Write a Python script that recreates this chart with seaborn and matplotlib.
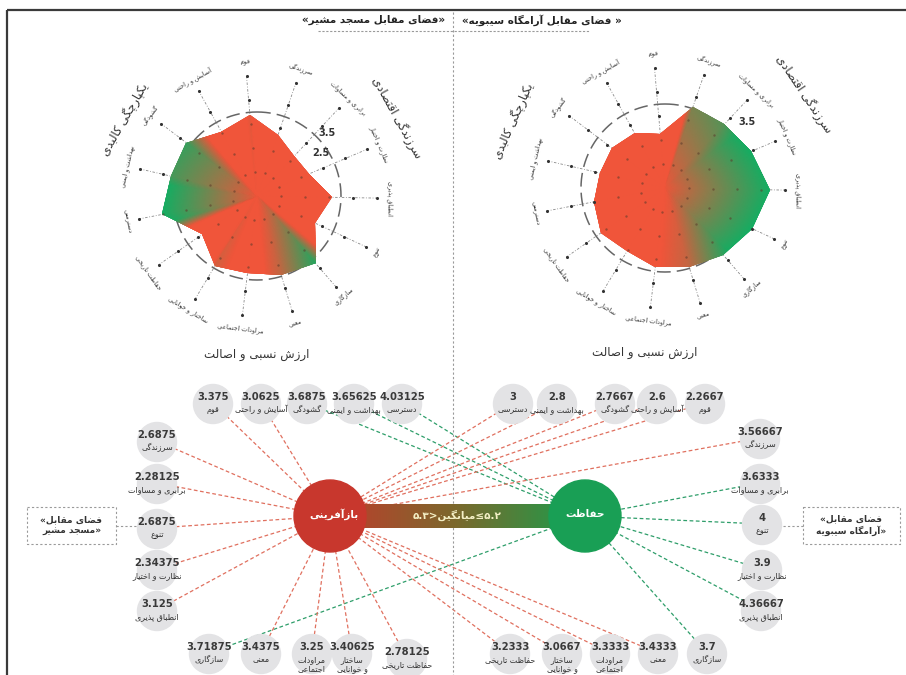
import numpy as np
import matplotlib.pyplot as plt
import seaborn as sns
from matplotlib.patches import Circle, Rectangle

sns.set_theme(style='white')
plt.rcParams['font.family'] = ['DejaVu Sans']

# criteria, clockwise around the radars starting from the top
criteria = ['قوم', 'سرزندگی', 'برابری و مساوات', 'نظارت و اختیار', 'انطباق پذیری',
            'تنوع', 'سازگاری', 'معنی', 'مراودات اجتماعی', 'ساختار و خوانایی',
            'حفاظت تاریخی', 'دسترسی', 'بهداشت و ایمنی', 'گشودگی', 'آسایش و راحتی']
moshir = [3.375, 2.6875, 2.28125, 2.34375, 3.125, 2.6875, 3.71875, 3.4375, 3.25,
          3.40625, 2.78125, 4.03125, 3.65625, 3.6875, 3.0625]
sibawayh = [2.2667, 3.56667, 3.6333, 3.9, 4.36667, 4, 3.7, 3.4333, 3.3333,
            3.0667, 3.2333, 3, 2.8, 2.7667, 2.6]
groups = ['سرزندگی اقتصادی', 'یکپارچگی کالبدی', 'ارزش نسبی و اصالت']
site_moshir = 'فضای مقابل مسجد مشیر'
site_sibawayh = 'فضای مقابل آرامگاه سیبویه'
cls_keep = 'حفاظت'
cls_regen = 'بازآفرینی'
mean_word = 'میانگین'
link_cut = 3.6   # criteria at or above go to "keep", the rest to "regenerate"

RED = '#f0553a'
GREEN = '#16ad62'

# --- minimal persian shaping + right-to-left ordering for matplotlib ---
_two = {'ا': 0xFE8D, 'آ': 0xFE81, 'د': 0xFEA9, 'ذ': 0xFEAB, 'ر': 0xFEAD,
        'ز': 0xFEAF, 'ژ': 0xFB8A, 'و': 0xFEED}
_four = {'ب': 0xFE8F, 'پ': 0xFB56, 'ت': 0xFE95, 'ث': 0xFE99, 'ج': 0xFE9D,
         'چ': 0xFB7A, 'ح': 0xFEA1, 'خ': 0xFEA5, 'س': 0xFEB1, 'ش': 0xFEB5,
         'ص': 0xFEB9, 'ض': 0xFEBD, 'ط': 0xFEC1, 'ظ': 0xFEC5, 'ع': 0xFEC9,
         'غ': 0xFECD, 'ف': 0xFED1, 'ق': 0xFED5, 'ک': 0xFB8E, 'ك': 0xFED9,
         'گ': 0xFB92, 'ل': 0xFEDD, 'م': 0xFEE1, 'ن': 0xFEE5, 'ه': 0xFEE9,
         'ی': 0xFBFC, 'ي': 0xFEF1, 'ئ': 0xFE89}


def fa(s):
    lines = []
    for line in s.split('\n'):
        out = []
        for i, ch in enumerate(line):
            prev = line[i - 1] if i > 0 else ''
            nxt = line[i + 1] if i + 1 < len(line) else ''
            jp = prev in _four
            if ch in _two:
                out.append(chr(_two[ch] + (1 if jp else 0)))
            elif ch in _four:
                jn = nxt in _four or nxt in _two
                k = 3 if (jp and jn) else 1 if jp else 2 if jn else 0
                out.append(chr(_four[ch] + k))
            else:
                out.append(ch)
        lines.append(''.join(reversed(out)))
    return '\n'.join(lines)


fig = plt.figure(figsize=(9.06, 6.75), dpi=100)
W, H = 906, 675

bg = fig.add_axes([0, 0, 1, 1])
bg.set_xlim(0, W)
bg.set_ylim(H, 0)
bg.axis('off')

# frame, header and divider
bg.add_patch(Rectangle((7, 10), 910, 700, fill=False, ec='#3a3a3a', lw=1.6))
bg.plot([453, 453], [12, H], ls=(0, (2, 2)), color='#9a9a9a', lw=0.8)
bg.plot([318, 590], [31, 31], ls=(0, (2, 1.5)), color='#9a9a9a', lw=0.8)
bg.text(445, 20, '«' + fa(site_moshir) + '»', ha='right', va='center',
        fontsize=7.5, fontweight='bold', color='#222')
bg.text(462, 20, '«' + fa(site_sibawayh) + ' »', ha='left', va='center',
        fontsize=7.5, fontweight='bold', color='#222')

fill_cmap = sns.blend_palette([RED, GREEN], as_cmap=True)


def radar(cx, cy, vals, group_pos, scale_labels):
    rmax, px = 6, 24
    R = rmax * px
    ax = fig.add_axes([(cx - R) / W, 1 - (cy + R) / H, 2 * R / W, 2 * R / H],
                      projection='polar')
    ax.set_theta_zero_location('N')
    ax.set_theta_direction(-1)
    ax.axis('off')
    theta = np.deg2rad(-5 + 24 * np.arange(len(vals)))
    th_c = np.append(theta, theta[0] + 2 * np.pi)
    v_c = np.append(vals, vals[0])

    for t in theta:
        ax.plot([t, t], [0.2, 5.05], ls=(0, (3, 2, 1, 2)), color='#8a8a8a',
                lw=0.6, zorder=1)
    tt = np.linspace(0, 2 * np.pi, 361)
    ax.plot(tt, np.full_like(tt, 3.5), ls=(0, (9, 4)), color='#666', lw=1.1, zorder=1)

    # gradient fill clipped to the data polygon
    rr = np.linspace(0, 5, 101)
    T, Rg = np.meshgrid(tt, rr)
    edge = np.interp((tt - theta[0]) % (2 * np.pi) + theta[0], th_c, v_c)
    w = np.clip((edge - 3.35) / 0.4, 0, 1)[None, :] * np.clip(Rg / edge[None, :], 0, 1) ** 0.9
    mesh = ax.pcolormesh(T, Rg, w, cmap=fill_cmap, vmin=0, vmax=1,
                         shading='gouraud', zorder=2)
    poly = ax.fill(th_c, v_c, facecolor='none', edgecolor='none', zorder=2)[0]
    mesh.set_clip_path(poly)

    dots_t = np.repeat(theta, 5)
    dots_r = np.tile(np.arange(1, 6), len(theta))
    inside = dots_r < np.repeat(vals, 5)
    sns.scatterplot(x=dots_t[inside], y=dots_r[inside], ax=ax, s=3, color='#5a3a2a',
                    alpha=0.55, linewidth=0, legend=False, zorder=3)
    sns.scatterplot(x=dots_t[~inside], y=dots_r[~inside], ax=ax, s=5, color='#333',
                    linewidth=0, legend=False, zorder=3)
    ax.set_ylim(0, rmax)

    for t, name in zip(theta, criteria):
        ang = np.rad2deg(t) % 360
        rot = -ang
        if 100 < ang < 260:
            rot += 180
        ax.text(t, 5.55, fa(name), rotation=rot, rotation_mode='anchor',
                ha='center', va='center', fontsize=4.6, color='#333')
    for (ang, r), name in zip(group_pos, groups):
        rot = -ang if ang < 100 or ang > 260 else 0
        ax.text(np.deg2rad(ang), r, fa(name), rotation=rot, rotation_mode='anchor',
                ha='center', va='center', fontsize=8.5, color='#333')
    for txt, ang, r in scale_labels:
        ax.text(np.deg2rad(ang), r, txt, ha='center', va='center', fontsize=7,
                fontweight='bold', color='#333', zorder=4)


radar(257, 196, moshir, [(61, 6.7), (300, 6.4), (180, 6.6)],
      [('3.5', 48, 3.95), ('2.5', 56, 3.2)])
radar(665, 188, sibawayh, [(56, 7.0), (294, 6.9), (187, 6.9)],
      [('3.5', 51, 4.4)])

# --- lower diagram: two classes joined by the middle band ---
regen_xy, keep_xy, cr = (330, 516), (585, 516), 36
band_cmap = sns.blend_palette(['#b3452c', '#7a692d', '#2c9446'], as_cmap=True)
bg.imshow(np.linspace(0, 1, 256)[None, :], extent=(355, 560, 528, 504),
          cmap=band_cmap, aspect='auto', zorder=3)
bg.add_patch(Circle(regen_xy, cr, color='#c8372d', zorder=4))
bg.add_patch(Circle(keep_xy, cr, color='#199f55', zorder=4))
bg.text(regen_xy[0] + 4, regen_xy[1] - 2, fa(cls_regen), ha='center', va='center',
        fontsize=7.5, fontweight='bold', color='white', zorder=5)
bg.text(keep_xy[0], keep_xy[1] - 2, fa(cls_keep), ha='center', va='center',
        fontsize=7.5, fontweight='bold', color='white', zorder=5)
bg.text(457, 515, '۵.۳>' + fa(mean_word) + '≤۵.۲', ha='center', va='center',
        fontsize=7.5, fontweight='bold', color='#f4f0c6', zorder=5)
bg.set_xlim(0, W)
bg.set_ylim(H, 0)

# bubble layout (x, y of the value text) for each site
pos_moshir = {
    'قوم': (213, 397), 'آسایش و راحتی': (261, 397), 'گشودگی': (307, 397),
    'بهداشت و ایمنی': (354, 397), 'دسترسی': (402, 397),
    'سرزندگی': (157, 435), 'برابری و مساوات': (157, 477), 'تنوع': (157, 522),
    'نظارت و اختیار': (157, 563), 'انطباق پذیری': (157, 604),
    'سازگاری': (209, 647), 'معنی': (261, 647), 'مراودات اجتماعی': (312, 647),
    'ساختار و خوانایی': (352, 647), 'حفاظت تاریخی': (407, 652)}
pos_sibawayh = {
    'دسترسی': (513, 397), 'بهداشت و ایمنی': (557, 397), 'گشودگی': (615, 397),
    'آسایش و راحتی': (657, 397), 'قوم': (705, 397),
    'سرزندگی': (760, 432), 'برابری و مساوات': (760, 477), 'تنوع': (762, 518),
    'نظارت و اختیار': (762, 563), 'انطباق پذیری': (761, 604),
    'حفاظت تاریخی': (510, 647), 'ساختار و خوانایی': (562, 647),
    'مراودات اجتماعی': (610, 647), 'معنی': (658, 647), 'سازگاری': (707, 647)}
split_bottom = {'مراودات اجتماعی': 'مراودات\nاجتماعی',
                'ساختار و خوانایی': 'ساختار\nو خوانایی'}


def bubbles(vals, pos):
    for name, v in zip(criteria, vals):
        x, y = pos[name]
        target = keep_xy if v >= link_cut else regen_xy
        col = '#2e9e6a' if v >= link_cut else '#e0705f'
        bg.plot([x, target[0]], [y + 6, target[1]], ls=(0, (3, 2)), color=col,
                lw=0.9, zorder=1)
        bg.add_patch(Circle((x, y + 7), 19.5, color='#e3e3e5', zorder=2))
        bg.text(x, y, f'{v:g}', ha='center', va='center', fontsize=7.2,
                fontweight='bold', color='#3a3a3a', zorder=3)
        label = split_bottom.get(name, name) if y > 640 else name
        bg.text(x, y + 8, fa(label), ha='center', va='top', fontsize=5.8,
                color='#333', linespacing=1.05, zorder=3)


bubbles(moshir, pos_moshir)
bubbles(sibawayh, pos_sibawayh)

# side boxes naming the two sites
for (x0, x1), (bx, by), name in [((27, 116), (157, 529), site_moshir),
                                  ((803, 900), (762, 525), site_sibawayh)]:
    bg.add_patch(Rectangle((x0, 507), x1 - x0, 37, fill=False, ec='#9a9a9a',
                           ls=(0, (2, 2)), lw=0.8))
    near = x1 if bx > x1 else x0
    bg.plot([near, bx + (-19 if bx > x1 else 19)], [526, 526], ls=(0, (2, 2)),
            color='#9a9a9a', lw=0.8)
    words = name.split(' ')
    txt = ' '.join(words[:2]) + '\n' + ' '.join(words[2:])
    bg.text((x0 + x1) / 2, 525, '«' + fa(txt) + '»', ha='center', va='center',
            fontsize=6.5, fontweight='bold', color='#333', linespacing=1.3)

fig.savefig('out.png', dpi=100)
